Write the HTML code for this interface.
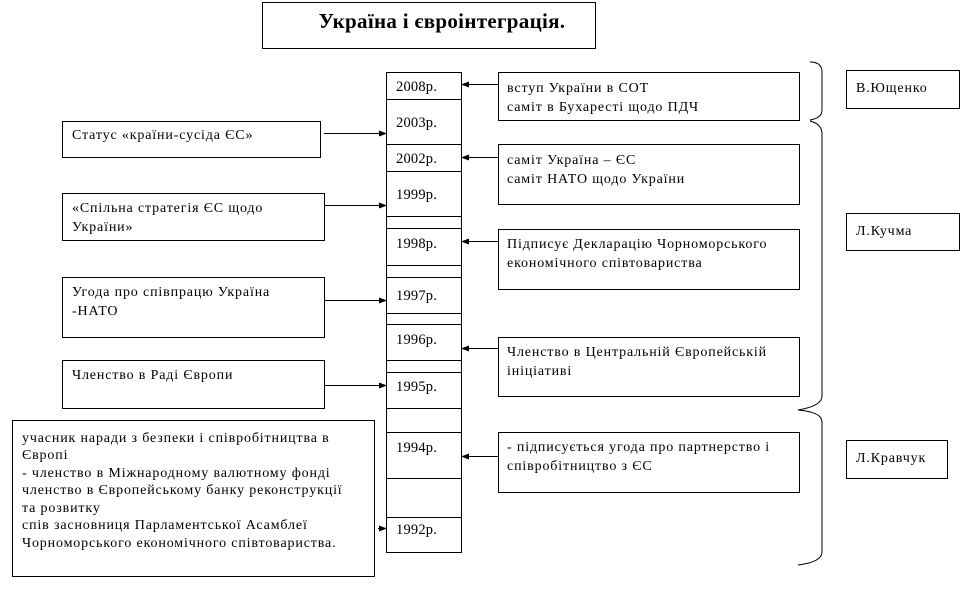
<!DOCTYPE html>
<html><head><meta charset="utf-8"><style>
html,body{margin:0;padding:0;background:#fff;}
svg{display:block}
text{font-family:"Liberation Serif",serif;font-size:14px;letter-spacing:0.85px;fill:#000}
text.y{font-size:14.5px;letter-spacing:0.2px}
</style></head><body>
<svg width="961" height="589" viewBox="0 0 961 589" xmlns="http://www.w3.org/2000/svg">
<defs><marker id="a" markerWidth="8" markerHeight="6" refX="7" refY="3" orient="auto" markerUnits="userSpaceOnUse"><path d="M0,0 L8,3 L0,6 z" fill="#000"/></marker></defs>
<g fill="none" stroke="#000" stroke-width="1">
<rect x="262.5" y="2.5" width="333" height="46"/>
<rect x="386.5" y="72.5" width="75" height="480"/>
<rect x="386.5" y="72.5" width="75" height="27"/>
<rect x="386.5" y="99.5" width="75" height="45"/>
<rect x="386.5" y="144.5" width="75" height="27"/>
<rect x="386.5" y="171.5" width="75" height="45"/>
<rect x="386.5" y="228.5" width="75" height="37"/>
<rect x="386.5" y="277.5" width="75" height="36"/>
<rect x="386.5" y="324.5" width="75" height="36"/>
<rect x="386.5" y="372.5" width="75" height="36"/>
<rect x="386.5" y="432.5" width="75" height="46"/>
<rect x="386.5" y="517.5" width="75" height="35"/>
<rect x="62.5" y="121.5" width="258" height="36"/>
<rect x="62.5" y="193.5" width="262" height="47"/>
<rect x="62.5" y="277.5" width="262" height="60"/>
<rect x="62.5" y="360.5" width="262" height="48"/>
<rect x="12.5" y="420.5" width="362" height="156"/>
<rect x="498.5" y="72.5" width="301" height="48"/>
<rect x="498.5" y="144.5" width="301" height="60"/>
<rect x="498.5" y="229.5" width="301" height="60"/>
<rect x="498.5" y="337.5" width="301" height="59"/>
<rect x="498.5" y="432.5" width="301" height="60"/>
<rect x="846.5" y="70.5" width="113" height="38"/>
<rect x="846.5" y="213.5" width="113" height="37"/>
<rect x="846.5" y="440.5" width="101" height="38"/>
<g marker-end="url(#a)">
<line x1="324" y1="133.5" x2="386" y2="133.5"/>
<line x1="325" y1="205.5" x2="386" y2="205.5"/>
<line x1="325" y1="300.5" x2="386" y2="300.5"/>
<line x1="325" y1="385.5" x2="386" y2="385.5"/>
<line x1="378" y1="528.5" x2="386" y2="528.5"/>
<line x1="498" y1="84.5" x2="462" y2="84.5"/>
<line x1="498" y1="157.5" x2="462" y2="157.5"/>
<line x1="498" y1="241.5" x2="462" y2="241.5"/>
<line x1="498" y1="348.5" x2="462" y2="348.5"/>
<line x1="498" y1="456.5" x2="462" y2="456.5"/>
</g>
<path d="M810,62 Q822,62 822,72 L822,110 Q822,118 810,120"/>
<path d="M810,121 Q822,124 822,134 L822,396 Q822,406 798,410"/>
<path d="M798,410 Q822,412 822,422 L822,552 Q822,562 798,565"/>
</g>
<text x="442" y="28" text-anchor="middle" style="font-size:21px;font-weight:bold;letter-spacing:0.3px">Україна і євроінтеграція.</text>
<text class="y" x="396" y="91">2008р.</text>
<text class="y" x="396" y="127">2003р.</text>
<text class="y" x="396" y="163">2002р.</text>
<text class="y" x="396" y="199">1999р.</text>
<text class="y" x="396" y="248">1998р.</text>
<text class="y" x="396" y="300">1997р.</text>
<text class="y" x="396" y="344">1996р.</text>
<text class="y" x="396" y="391">1995р.</text>
<text class="y" x="396" y="452">1994р.</text>
<text class="y" x="396" y="534">1992р.</text>
<text x="72" y="139">Статус «країни-сусіда ЄС»</text>
<text x="72" y="212">«Спільна стратегія ЄС щодо</text>
<text x="72" y="231">України»</text>
<text x="72" y="296">Угода про співпрацю Україна</text>
<text x="72" y="315">-НАТО</text>
<text x="72" y="379">Членство в Раді Європи</text>
<text x="22" y="442">учасник наради з безпеки і співробітництва в</text>
<text x="22" y="459">Європі</text>
<text x="22" y="477">- членство в Міжнародному валютному фонді</text>
<text x="22" y="494">членство в Європейському банку реконструкції</text>
<text x="22" y="512">та розвитку</text>
<text x="22" y="529">спів засновниця Парламентської Асамблеї</text>
<text x="22" y="547">Чорноморського економічного співтовариства.</text>
<text x="507" y="92">вступ України в СОТ</text>
<text x="507" y="111">саміт в Бухаресті щодо ПДЧ</text>
<text x="507" y="164">саміт Україна – ЄС</text>
<text x="507" y="183">саміт НАТО щодо України</text>
<text x="507" y="248">Підписує Декларацію Чорноморського</text>
<text x="507" y="267">економічного співтовариства</text>
<text x="507" y="356">Членство в Центральній Європейській</text>
<text x="507" y="375">ініціативі</text>
<text x="507" y="451">- підписується угода про партнерство і</text>
<text x="507" y="470">співробітництво з ЄС</text>
<text x="856" y="92">В.Ющенко</text>
<text x="856" y="235">Л.Кучма</text>
<text x="856" y="462">Л.Кравчук</text>
</svg>
</body></html>
